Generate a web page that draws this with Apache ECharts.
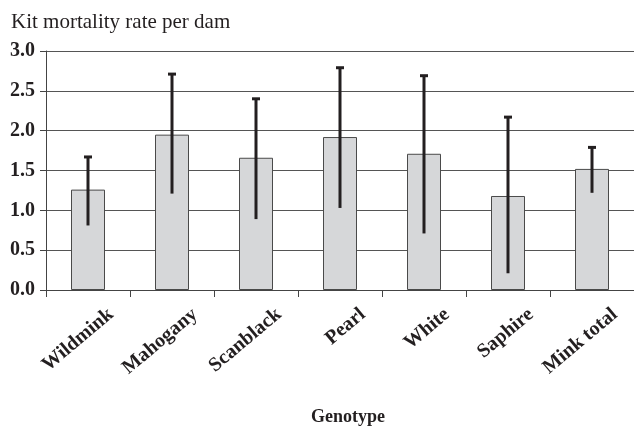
<!DOCTYPE html>
<html>
<head>
<meta charset="utf-8">
<script src="https://cdn.jsdelivr.net/npm/echarts@6/dist/echarts.min.js"></script>
<style>html,body{margin:0;padding:0;background:#fff;}#c{width:634px;height:427px;}</style>
</head>
<body>
<div id="c"></div>
<script>
var categories = ['Wildmink', 'Mahogany', 'Scanblack', 'Pearl', 'White', 'Saphire', 'Mink total'];
var means = [1.26, 1.95, 1.66, 1.92, 1.71, 1.18, 1.52];
var errHigh = [1.67, 2.71, 2.40, 2.79, 2.69, 2.17, 1.79];
var errLow = [0.81, 1.21, 0.89, 1.03, 0.71, 0.21, 1.22];
var yTicks = [0, 0.5, 1, 1.5, 2, 2.5, 3];

var FONT = '"Liberation Serif", "DejaVu Serif", serif';
var chart = echarts.init(document.getElementById('c'), null, {renderer: 'canvas'});
var errData = categories.map(function (c, i) { return [i, errLow[i], errHigh[i]]; });
var labelData = categories.map(function (c, i) { return [i, 0]; });

chart.setOption({
  animation: false,
  backgroundColor: '#fff',
  grid: {left: 46, top: 51, width: 589, height: 239, containLabel: false},
  xAxis: {
    type: 'category', data: categories,
    axisLine: {lineStyle: {color: '#444', width: 1}},
    axisTick: {show: true, length: 7, inside: false, lineStyle: {color: '#444'}},
    axisLabel: {show: false},
    splitLine: {show: false}
  },
  yAxis: {
    type: 'value', min: 0, max: 3, interval: 0.5,
    axisLine: {show: true, lineStyle: {color: '#444', width: 1}},
    axisTick: {show: true, length: 6, lineStyle: {color: '#444'}},
    axisLabel: {
      margin: 11, fontFamily: FONT, fontWeight: 'bold', fontSize: 20, color: '#231f20',
      formatter: function (v) { return v.toFixed(1); }
    },
    splitLine: {show: true, lineStyle: {color: '#555', width: 1}}
  },
  series: [
    {
      type: 'bar', data: means, barWidth: 34,
      itemStyle: {color: '#d6d7d9', borderColor: '#4a4a4a', borderWidth: 1}
    },
    {
      type: 'custom', data: errData, z: 10,
      renderItem: function (params, api) {
        var idx = api.value(0);
        var lo = api.coord([idx, api.value(1)]);
        var hi = api.coord([idx, api.value(2)]);
        var st = {stroke: '#231f20', lineWidth: 3};
        return {
          type: 'group',
          children: [
            {type: 'line', shape: {x1: hi[0], y1: hi[1], x2: lo[0], y2: lo[1]}, style: st},
            {type: 'line', shape: {x1: hi[0] - 4, y1: hi[1], x2: hi[0] + 4, y2: hi[1]}, style: st}
          ]
        };
      }
    },
    {
      type: 'custom', data: labelData, z: 10, clip: false, silent: true,
      renderItem: function (params, api) {
        var idx = api.value(0);
        var p = api.coord([idx, 0]);
        return {
          type: 'text',
          x: p[0] + 23, y: p[1] + 22,
          rotation: 40 * Math.PI / 180,
          style: {
            text: categories[idx], font: 'bold 20px ' + FONT, fill: '#231f20',
            align: 'right', verticalAlign: 'middle'
          }
        };
      }
    }
  ],
  graphic: [
    {type: 'text', left: 11, top: 12, style: {text: 'Kit mortality rate per dam', font: '21px ' + FONT, fill: '#231f20'}},
    {type: 'text', x: 348, y: 417, style: {text: 'Genotype', font: 'bold 18px ' + FONT, fill: '#231f20', align: 'center', verticalAlign: 'middle'}}
  ]
});
</script>
</body>
</html>
